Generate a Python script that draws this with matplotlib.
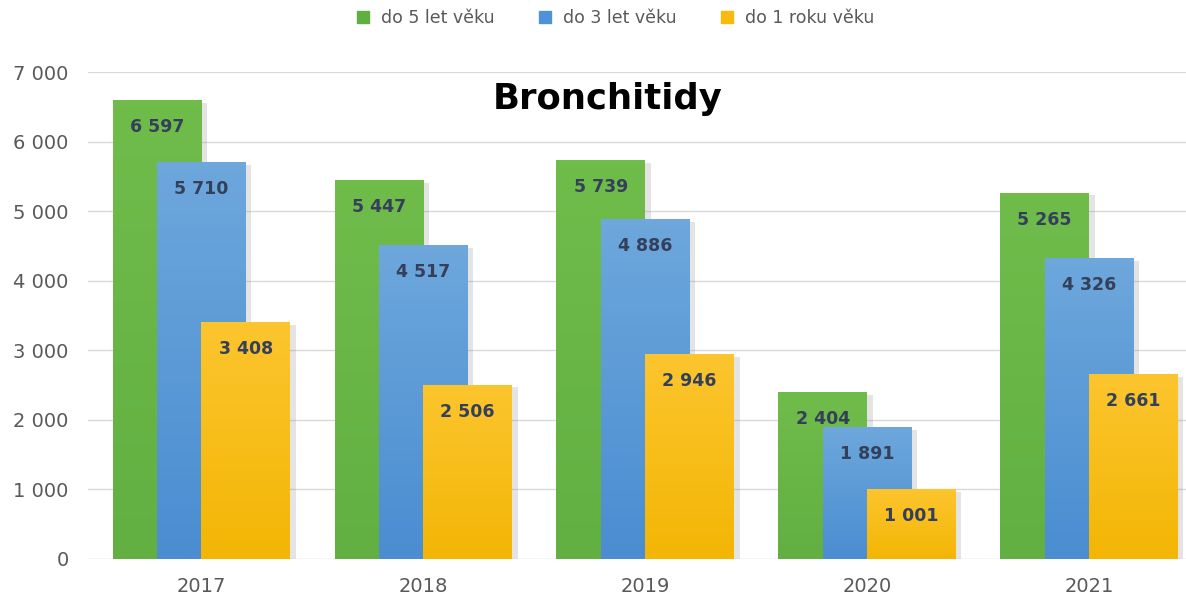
import numpy as np
import matplotlib.pyplot as plt
import matplotlib.patheffects as pe
from matplotlib.lines import Line2D
from matplotlib.colors import LinearSegmentedColormap

years = ['2017', '2018', '2019', '2020', '2021']
series = ['do 5 let věku', 'do 3 let věku', 'do 1 roku věku']
do5 = [6597, 5447, 5739, 2404, 5265]
do3 = [5710, 4517, 4886, 1891, 4326]
do1 = [3408, 2506, 2946, 1001, 2661]

# (top colour, bottom colour) for each series
grads = [('#70bc4b', '#62b042'), ('#6da7dc', '#4a8dd1'), ('#fcc52e', '#f3b605')]
legend_cols = ['#5fb040', '#4f93d6', '#f7bb10']


def fmt(v):
    return f'{v:,}'.replace(',', ' ')


fig = plt.figure(figsize=(11.86, 6.04), dpi=100)
ax = fig.add_axes([88 / 1186, 45 / 604, 1 - 88 / 1186, (559 - 72) / 604])

x = np.arange(len(years))
width = 0.4
offsets = [-0.2, 0.0, 0.2]
shadow = [pe.SimplePatchShadow(offset=(4, -2), shadow_rgbFace='#888888', alpha=0.22), pe.Normal()]

for k, vals in enumerate([do5, do3, do1]):
    bars = ax.bar(x + offsets[k], vals, width, color=grads[k][1], zorder=2 + k)
    cmap = LinearSegmentedColormap.from_list(f'g{k}', [grads[k][1], grads[k][0]])
    for b, v in zip(bars, vals):
        b.set_path_effects(shadow)
        x0, w = b.get_x(), b.get_width()
        img = ax.imshow(np.linspace(0, 1, 64).reshape(-1, 1), cmap=cmap, aspect='auto',
                        extent=(x0, x0 + w, 0, v), origin='lower', zorder=2 + k + 0.1)
        img.set_clip_path(b)
        ax.annotate(fmt(v), (x0 + w / 2, v), xytext=(0, -27), textcoords='offset pixels',
                    ha='center', va='center', fontsize=12.5, fontweight='bold',
                    color='#34405a', zorder=3 + k)

ax.set_xlim(-0.511, 4.437)
ax.set_ylim(0, 7000)
ax.set_xticks(x)
ax.set_xticklabels(years)
ax.set_yticks(range(0, 7001, 1000))
ax.set_yticklabels([fmt(v) for v in range(0, 7001, 1000)])
ax.tick_params(length=0, labelsize=14, colors='#595959', pad=14)
ax.tick_params(axis='x', pad=13)
ax.grid(axis='y', color='#d9d9d9', linewidth=1, zorder=0)
ax.set_axisbelow(True)
for s in ax.spines.values():
    s.set_visible(False)

fig.text(608 / 1186, 1 - 99 / 604, 'Bronchitidy', ha='center', va='center',
         fontsize=25.5, fontweight='bold', color='black')

handles = [Line2D([], [], marker='s', linestyle='none', markersize=8, color=c) for c in legend_cols]
fig.legend(handles, series, loc='center', bbox_to_anchor=(610 / 1186, 1 - 18 / 604), ncol=3,
           frameon=False, fontsize=12.5, handletextpad=0.05, columnspacing=1.9, labelcolor='#595959')

fig.savefig('out.png', dpi=100)
